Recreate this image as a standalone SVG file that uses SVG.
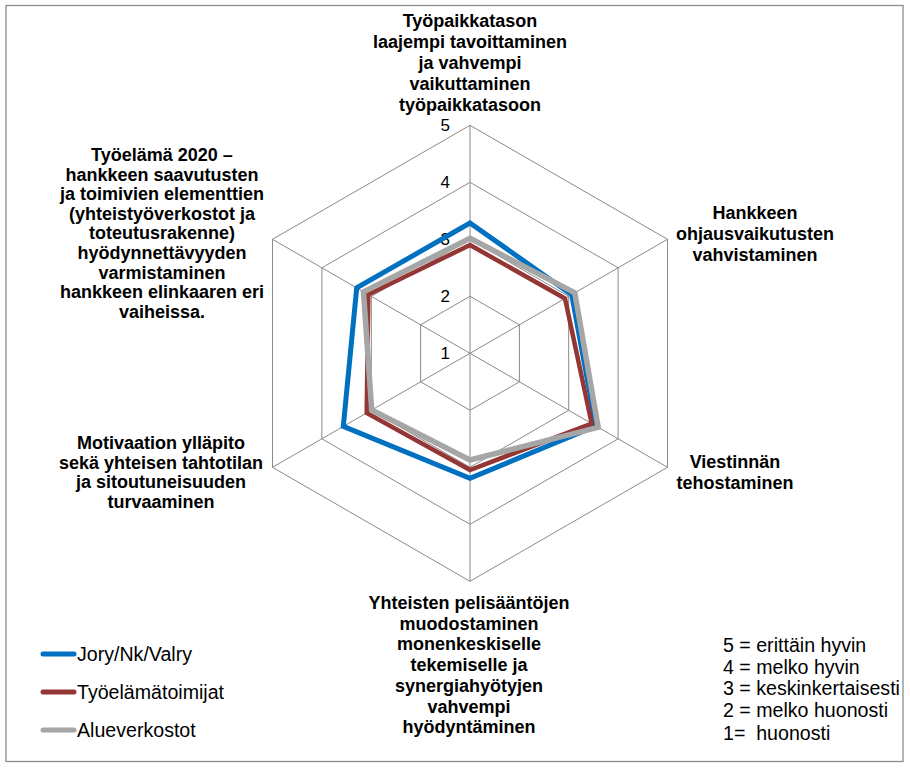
<svg xmlns="http://www.w3.org/2000/svg" width="910" height="768" viewBox="0 0 910 768">
<style>
.grid{fill:none;stroke:#898989;stroke-width:1}
.lbl{font-family:"Liberation Sans",Arial,sans-serif;font-weight:bold;font-size:18px;fill:#000;text-anchor:middle}
.tick{font-family:"Liberation Sans",Arial,sans-serif;font-size:17px;fill:#000;text-anchor:end}
.leg{font-family:"Liberation Sans",Arial,sans-serif;font-size:19.6px;fill:#000}
.s{fill:none;stroke-linejoin:miter}
</style>
<rect x="6" y="5.5" width="897" height="756" fill="#fff" stroke="#8c8c8c" stroke-width="1.3"/>
<g id="grid">
<polygon class="grid" points="470,296.3 519.4,324.8 519.4,381.8 470,410.3 420.6,381.8 420.6,324.8"/>
<polygon class="grid" points="470,239.3 568.7,296.3 568.7,410.3 470,467.3 371.3,410.3 371.3,296.3"/>
<polygon class="grid" points="470,182.3 618.1,267.8 618.1,438.8 470,524.3 321.9,438.8 321.9,267.8"/>
<polygon class="grid" points="470,125.3 667.5,239.3 667.5,467.3 470,581.3 272.5,467.3 272.5,239.3"/>
<path class="grid" d="M470,353.3V125.3M470,353.3L667.5,239.3M470,353.3L667.5,467.3M470,353.3V581.3M470,353.3L272.5,467.3M470,353.3L272.5,239.3"/>
</g>
<g id="ticks">
<text class="tick" x="450" y="131">5</text>
<text class="tick" x="450" y="188">4</text>
<text class="tick" x="450" y="245">3</text>
<text class="tick" x="450" y="302">2</text>
<text class="tick" x="450" y="359">1</text>
</g>
<g id="connectors">
<polygon id="s-jory" class="s" stroke="#0070C0" stroke-width="5" points="470,223 571.7,294.6 595.9,426 470,478.3 343.3,426.4 356.7,287.9"/>
<polygon id="s-tyoelama" class="s" stroke="#943634" stroke-width="4.5" points="470,245 565,298.5 591.7,423.5 470,470 366.7,413 368.3,294.6"/>
<polygon id="s-alue" class="s" stroke="#A6A6A6" stroke-width="5.5" points="470,238.3 574.8,292.8 598.2,427.3 470,460 371.7,410 363.5,291.8"/>
</g>
<g id="label-top">
<text class="lbl" x="470" y="27">Työpaikkatason</text>
<text class="lbl" x="470" y="48">laajempi tavoittaminen</text>
<text class="lbl" x="470" y="69">ja vahvempi</text>
<text class="lbl" x="470" y="90">vaikuttaminen</text>
<text class="lbl" x="470" y="111">työpaikkatasoon</text>
</g>
<g id="label-upper-right">
<text class="lbl" x="755" y="219">Hankkeen</text>
<text class="lbl" x="755" y="240">ohjausvaikutusten</text>
<text class="lbl" x="755" y="261">vahvistaminen</text>
</g>
<g id="label-lower-right">
<text class="lbl" x="735" y="468">Viestinnän</text>
<text class="lbl" x="735" y="489">tehostaminen</text>
</g>
<g id="label-bottom">
<text class="lbl" x="469" y="609">Yhteisten pelisääntöjen</text>
<text class="lbl" x="469" y="629.7">muodostaminen</text>
<text class="lbl" x="469" y="650.4">monenkeskiselle</text>
<text class="lbl" x="469" y="671">tekemiselle ja</text>
<text class="lbl" x="469" y="691.8">synergiahyötyjen</text>
<text class="lbl" x="469" y="712.5">vahvempi</text>
<text class="lbl" x="469" y="733.2">hyödyntäminen</text>
</g>
<g id="label-lower-left">
<text class="lbl" x="161" y="449">Motivaation ylläpito</text>
<text class="lbl" x="161" y="468.5">sekä yhteisen tahtotilan</text>
<text class="lbl" x="161" y="488">ja sitoutuneisuuden</text>
<text class="lbl" x="161" y="507.5">turvaaminen</text>
</g>
<g id="label-upper-left">
<text class="lbl" x="162" y="161">Työelämä 2020 –</text>
<text class="lbl" x="162" y="180.6">hankkeen saavutusten</text>
<text class="lbl" x="162" y="200.2">ja toimivien elementtien</text>
<text class="lbl" x="162" y="219.8">(yhteistyöverkostot ja</text>
<text class="lbl" x="162" y="239.4">toteutusrakenne)</text>
<text class="lbl" x="162" y="259">hyödynnettävyyden</text>
<text class="lbl" x="162" y="278.6">varmistaminen</text>
<text class="lbl" x="162" y="298.2">hankkeen elinkaaren eri</text>
<text class="lbl" x="162" y="317.8">vaiheissa.</text>
</g>
<g id="legend">
<line x1="43" y1="654" x2="74" y2="654" stroke="#0070C0" stroke-width="5" stroke-linecap="round"/>
<text class="leg" x="77" y="661">Jory/Nk/Valry</text>
<line x1="43" y1="692" x2="74" y2="692" stroke="#943634" stroke-width="5" stroke-linecap="round"/>
<text class="leg" x="77" y="699">Työelämätoimijat</text>
<line x1="43" y1="730" x2="74" y2="730" stroke="#A6A6A6" stroke-width="5" stroke-linecap="round"/>
<text class="leg" x="77" y="737">Alueverkostot</text>
</g>
<g id="scale-legend">
<text class="leg" x="723" y="652">5 = erittäin hyvin</text>
<text class="leg" x="723" y="673.7">4 = melko hyvin</text>
<text class="leg" x="723" y="695.3">3 = keskinkertaisesti</text>
<text class="leg" x="723" y="717">2 = melko huonosti</text>
<text class="leg" x="723" y="740" xml:space="preserve">1=  huonosti</text>
</g>
</svg>
